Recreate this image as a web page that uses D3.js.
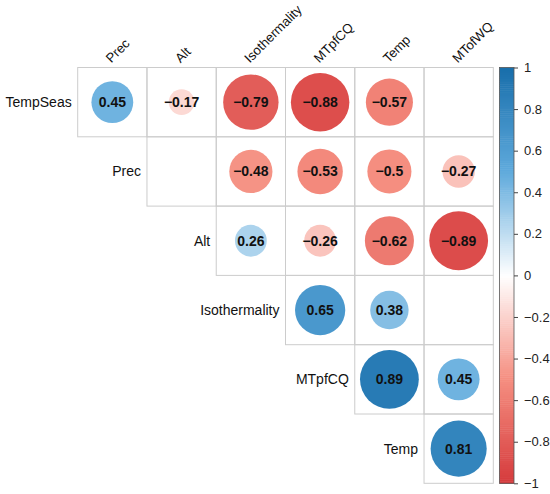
<!DOCTYPE html>
<html><head><meta charset="utf-8">
<script src="https://cdn.jsdelivr.net/npm/d3@7"></script>
<style>body{margin:0;background:#fff}text{font-family:"Liberation Sans",Arial,sans-serif}</style>
</head><body><svg id="c" width="550" height="494"></svg>
<script>
const rows = ["TempSeas","Prec","Alt","Isothermality","MTpfCQ","Temp"];
const cols = ["Prec","Alt","Isothermality","MTpfCQ","Temp","MTofWQ"];
// upper-triangle correlations; null = blank (not significant)
const rTempSeas = [0.45,-0.17,-0.79,-0.88,-0.57,null];
const rPrec = [null,-0.48,-0.53,-0.5,-0.27];
const rAlt = [0.26,-0.26,-0.62,-0.89];
const rIso = [0.65,0.38,null];
const rMTpfCQ = [0.89,0.45];
const rTemp = [0.81];
const rowValues = [rTempSeas,rPrec,rAlt,rIso,rMTpfCQ,rTemp];
const legendTicks = [1,0.8,0.6,0.4,0.2,0,-0.2,-0.4,-0.6,-0.8,-1];
const palStops = [-1,-0.5,0,0.5,1];
const palColors = ["#D53A3C","#F58E80","#FFFFFF","#5FAADC","#186EAA"];

const svg = d3.select("#c");
const x = d3.scaleBand().domain(cols).range([77.7,493.3]);
const y = d3.scaleBand().domain(rows).range([67.5,483.3]);
const bw = x.bandwidth();
const color = d3.scaleLinear().domain(palStops).range(palColors);
const fmt = v => String(v).replace("-", "\u2212");

const cells = [];
rowValues.forEach((vals,i)=>{
  vals.forEach((v,k)=>{ cells.push({row:rows[i], col:cols[i+k], v}); });
});

// grid
svg.append("g").selectAll("rect").data(cells).join("rect")
  .attr("x",d=>x(d.col)).attr("y",d=>y(d.row))
  .attr("width",bw).attr("height",y.bandwidth())
  .attr("fill","none").attr("stroke","#cccccc").attr("stroke-width",1);

const filled = cells.filter(d=>d.v!==null);
svg.append("g").selectAll("circle").data(filled).join("circle")
  .attr("cx",d=>x(d.col)+bw/2).attr("cy",d=>y(d.row)+y.bandwidth()/2)
  .attr("r",d=>0.45*Math.sqrt(Math.abs(d.v))*bw)
  .attr("fill",d=>color(d.v));
svg.append("g").selectAll("text").data(filled).join("text")
  .attr("x",d=>x(d.col)+bw/2).attr("y",d=>y(d.row)+y.bandwidth()/2)
  .attr("dy","0.36em").attr("text-anchor","middle")
  .attr("font-size",14).attr("font-weight","bold").attr("fill","#111")
  .text(d=>fmt(d.v));

// row labels
svg.append("g").selectAll("text").data(rows).join("text")
  .attr("x",(d,i)=>x(cols[i])-6).attr("y",d=>y(d)+y.bandwidth()/2)
  .attr("dy","0.35em").attr("text-anchor","end").attr("font-size",14).attr("fill","#111")
  .text(d=>d);
// column labels
svg.append("g").selectAll("text").data(cols).join("text")
  .attr("transform",d=>`translate(${x(d)+bw/2-1},${67.5-4}) rotate(-45)`)
  .attr("text-anchor","start").attr("font-size",13.2).attr("fill","#111")
  .text(d=>d);

// colorbar
const ly = d3.scaleLinear().domain([-1,1]).range([483.3,67.5]);
const steps = d3.range(0,200);
svg.append("g").selectAll("rect").data(steps).join("rect")
  .attr("x",499.5).attr("width",14.5)
  .attr("y",i=>ly(-1+(i+1)*0.01)).attr("height",i=>ly(-1+i*0.01)-ly(-1+(i+1)*0.01)+0.5)
  .attr("fill",i=>color(-1+(i+0.5)*0.01));
svg.append("rect").attr("x",499.5).attr("y",67.5).attr("width",14.5).attr("height",483.3-67.5)
  .attr("fill","none").attr("stroke","#555").attr("stroke-width",0.8);
const ax = svg.append("g").attr("transform","translate(514,0)")
  .call(d3.axisRight(ly).tickValues(legendTicks).tickSize(4).tickPadding(6).tickFormat(fmt));
ax.select(".domain").remove();
ax.selectAll("line").attr("stroke","#444");
ax.selectAll("text").attr("font-size",13).attr("fill","#222").style("font-family","Liberation Sans, Arial, sans-serif");
</script></body></html>
